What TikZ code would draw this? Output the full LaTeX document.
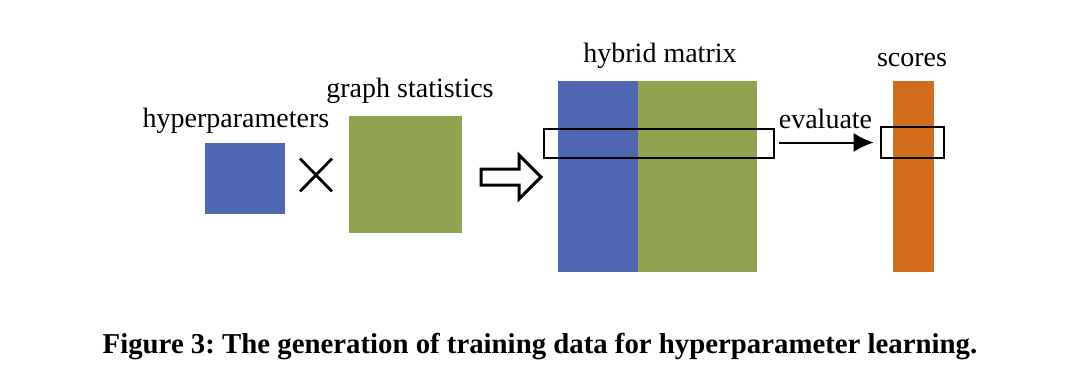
\documentclass[tikz,border=0pt]{standalone}
\usepackage{fontspec}
\setmainfont{Liberation Serif}
\usetikzlibrary{shapes.misc,shapes.arrows,arrows.meta}
\definecolor{hpblue}{HTML}{4F66B0}
\definecolor{gsgreen}{HTML}{8FA351}
\definecolor{scorange}{HTML}{D26D1E}
\begin{document}
\frenchspacing
\begin{tikzpicture}[x=0.5pt, y=-0.5pt,
  block/.style={inner sep=0pt, outer sep=0pt},
  lbl/.style={font=\fontsize{14}{16}\selectfont},
  hilite/.style={draw=black, line width=1.3pt, inner sep=0pt}]
  \useasboundingbox (0,0) rectangle (1080,382);
  % left part
  \node[block, fill=hpblue, minimum width=40pt, minimum height=35.5pt] (hp) at (245,178.5) {};
  \node[lbl] (hplbl) at (236,121) {hyperparameters};
  \node[cross out, draw, line width=1.4pt, minimum width=14.5pt, minimum height=15pt, inner sep=0pt] (times) at (316,175) {};
  \node[block, fill=gsgreen, minimum width=56.5pt, minimum height=58.5pt] (gs) at (405.5,174.5) {};
  \node[lbl] (gslbl) at (410,91) {graph statistics};
  \node[single arrow, draw, line width=1.5pt, inner xsep=0pt, inner ysep=3.25pt,
        single arrow head extend=7pt, single arrow head indent=0pt,
        minimum height=30pt] (conv) at (507,177) {};
  % hybrid matrix
  \node[block, fill=hpblue, minimum width=40pt, minimum height=95.5pt, anchor=north west] (hmblue) at (558,81) {};
  \node[block, fill=gsgreen, minimum width=59.5pt, minimum height=95.5pt, anchor=north west] (hmgreen) at (638,81) {};
  \node[lbl] (hmlbl) at (660,56) {hybrid matrix};
  \node[hilite, minimum width=115pt, minimum height=14.5pt] (row) at (659,143.5) {};
  % scores
  \node[block, fill=scorange, minimum width=20.5pt, minimum height=95.5pt, anchor=north west] (sc) at (893,81) {};
  \node[lbl] (sclbl) at (912,60) {scores};
  \node[hilite, minimum width=31.5pt, minimum height=15.5pt] (cell) at (912.5,142.5) {};
  \draw[-{Latex[length=10pt,width=9.5pt]}, line width=1pt, shorten >=3pt] (row.east |- cell.center) ++(4,0) coordinate (a) -- (cell.west) node[midway, above=3pt, xshift=-2pt, lbl] (evlbl) {evaluate};
  % caption
  \node[font=\fontsize{14.4}{17}\selectfont\bfseries] (cap) at (540,347) {Figure 3: The generation of training data for hyperparameter learning.};
\end{tikzpicture}
\end{document}
